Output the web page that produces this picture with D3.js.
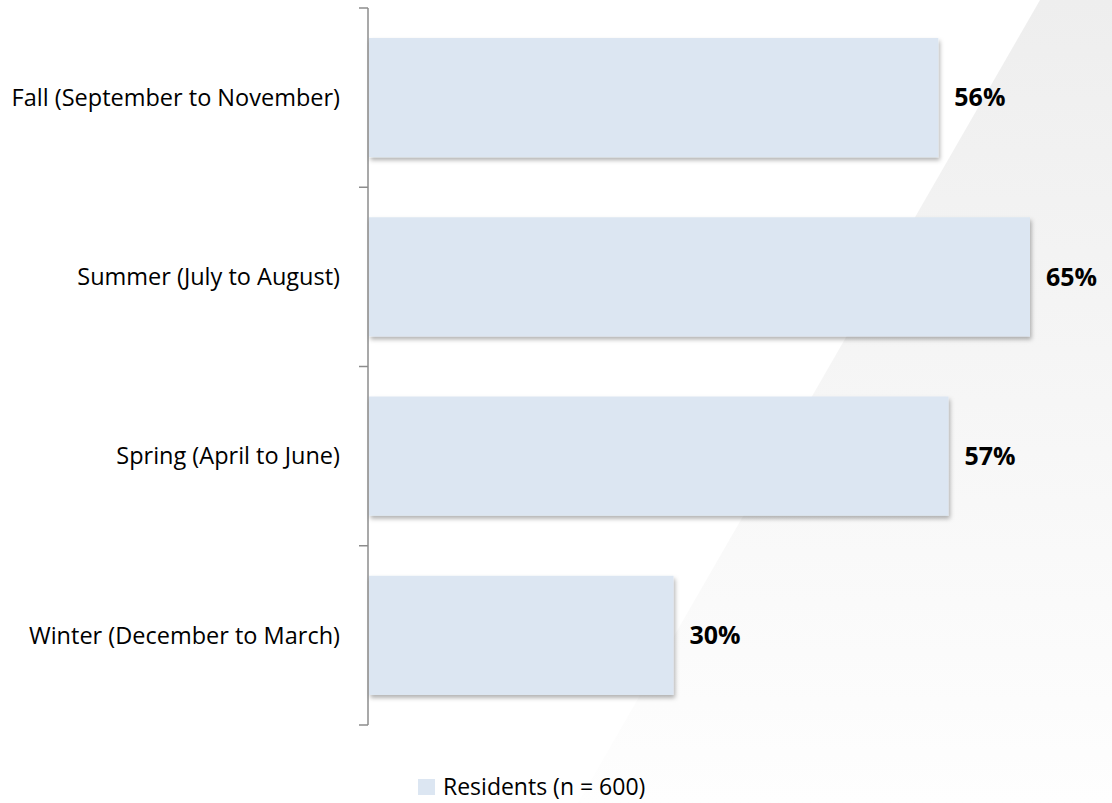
<!DOCTYPE html>
<html>
<head>
<meta charset="utf-8">
<script src="https://cdn.jsdelivr.net/npm/d3@7"></script>
<style>
  body { margin: 0; background: #fff; }
  svg { display: block; }
</style>
</head>
<body>
<div id="chart"></div>
<script>
// data
var seasons = ["Fall (September to November)", "Summer (July to August)", "Spring (April to June)", "Winter (December to March)"];
var residents = [56, 65, 57, 30];
var seriesName = "Residents (n = 600)";

var W = 1112, H = 803;

var svg = d3.select("#chart")
            .append("svg")
            .attr("width", W)
            .attr("height", H);

var defs = svg.append("defs");

// grey background wedge
var grad = defs.append("linearGradient")
            .attr("id", "bgGrad")
            .attr("x1", 0).attr("y1", 0).attr("x2", 0).attr("y2", 1);
grad.append("stop").attr("offset", "0%").attr("stop-color", "#eeeeee");
grad.append("stop").attr("offset", "100%").attr("stop-color", "#fefefe");

svg.append("path")
    .attr("d", "M1040,0 L1112,0 L1112,803 L578,803 Z")
    .attr("fill", "url(#bgGrad)");

// bar shadow
var filter = defs.append("filter")
            .attr("id", "shadow")
            .attr("x", "-5%").attr("y", "-5%")
            .attr("width", "115%").attr("height", "125%");
filter.append("feDropShadow")
    .attr("dx", 1.5).attr("dy", 3)
    .attr("stdDeviation", 2)
    .attr("flood-color", "#000")
    .attr("flood-opacity", 0.3);

var x0 = 368;

// X scale (percent)
var x = d3.scaleLinear()
            .domain([0, 65])
            .range([x0, 1030]);

// Y scale
var y = d3.scaleBand()
            .domain(seasons)
            .range([8, 725])
            .paddingInner(0.335)
            .paddingOuter(0.1675);

var step = y.step();

// axis line + ticks on category boundaries
var axis = svg.append("g");
axis.append("line")
    .attr("x1", x0).attr("x2", x0)
    .attr("y1", 8).attr("y2", 725)
    .attr("stroke", "#8c8c8c")
    .attr("stroke-width", 1.5);

var bounds = seasons.map(function(d) { return y(d) - step * y.paddingInner() / 2; });
bounds.push(725);
axis.selectAll("line.tick")
    .data(bounds)
    .enter()
    .append("line")
    .attr("class", "tick")
    .attr("x1", x0 - 9).attr("x2", x0)
    .attr("y1", function(d) { return d; })
    .attr("y2", function(d) { return d; })
    .attr("stroke", "#8c8c8c")
    .attr("stroke-width", 1.5);

// category labels
svg.selectAll("text.cat")
    .data(seasons)
    .enter()
    .append("text")
    .attr("class", "cat")
    .attr("x", x0 - 28)
    .attr("y", function(d) { return y(d) + y.bandwidth() / 2; })
    .attr("dy", "0.35em")
    .attr("text-anchor", "end")
    .style("font-family", "'Open Sans', sans-serif")
    .style("font-size", "23.5px")
    .style("fill", "#000")
    .text(function(d) { return d; });

// bars
svg.selectAll("rect.bar")
    .data(residents)
    .enter()
    .append("rect")
    .attr("class", "bar")
    .attr("x", x(0) + 1)
    .attr("y", function(d, i) { return y(seasons[i]); })
    .attr("width", function(d) { return x(d) - x(0) - 1; })
    .attr("height", y.bandwidth())
    .attr("fill", "#dce6f2")
    .attr("filter", "url(#shadow)");

// value labels
svg.selectAll("text.val")
    .data(residents)
    .enter()
    .append("text")
    .attr("class", "val")
    .attr("x", function(d) { return x(d) + 16; })
    .attr("y", function(d, i) { return y(seasons[i]) + y.bandwidth() / 2; })
    .attr("dy", "0.35em")
    .style("font-family", "'Open Sans', sans-serif")
    .style("font-size", "25px")
    .style("font-weight", "bold")
    .style("fill", "#000")
    .text(function(d) { return d + "%"; });

// legend
var legend = svg.append("g").attr("transform", "translate(418,779)");
legend.append("rect")
    .attr("width", 17).attr("height", 16)
    .attr("fill", "#dce6f2");
legend.append("text")
    .attr("x", 25)
    .attr("y", 16)
    .style("font-family", "'Open Sans', sans-serif")
    .style("font-size", "23px")
    .style("fill", "#000")
    .text(seriesName);
</script>
</body>
</html>
